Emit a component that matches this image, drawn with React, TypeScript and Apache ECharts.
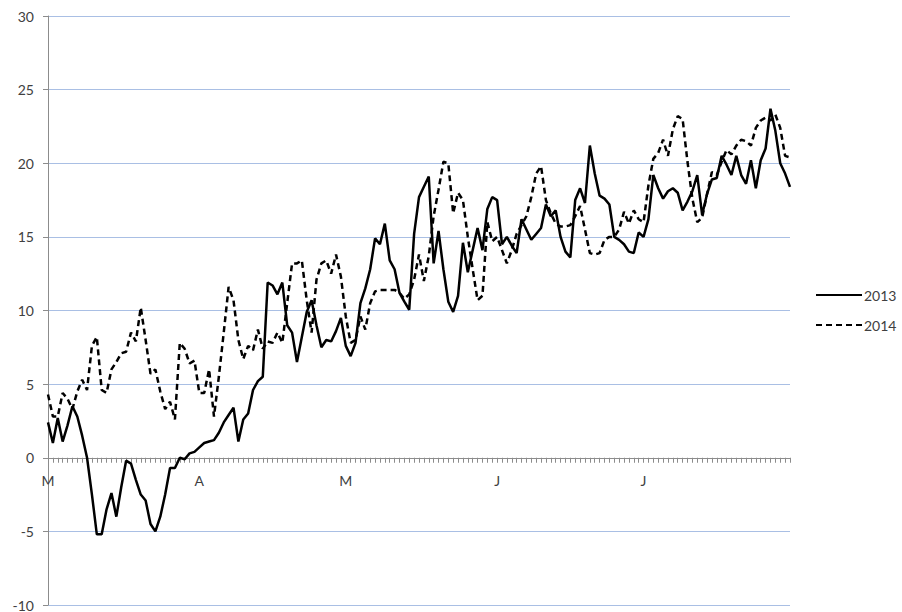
import React, { useEffect, useRef } from "react";
import * as echarts from "echarts";

// Month initials shown on the date axis, with the number of days in each month (March–July)
const monthLabels = ["M", "A", "M", "J", "J"];
const monthDays = [31, 30, 31, 30, 31];

// Daily mean temperature (°C), 1 March – 31 July
const temps2013 = [
  2.4, 1.0, 2.7, 1.1, 2.2, 3.5, 2.8, 1.5, 0.0, -2.5,
  -5.2, -5.2, -3.5, -2.4, -4.0, -2.0, -0.2, -0.4, -1.5, -2.5,
  -2.9, -4.5, -5.0, -4.0, -2.5, -0.7, -0.7, 0.0, -0.1, 0.3,
  0.4, 0.7, 1.0, 1.1, 1.2, 1.7, 2.4, 2.9, 3.4, 1.1,
  2.6, 3.0, 4.6, 5.2, 5.5, 11.9, 11.7, 11.1, 11.9, 9.0,
  8.5, 6.5, 8.2, 9.9, 10.7, 9.0, 7.5, 8.0, 7.9, 8.6,
  9.5, 7.6, 6.9, 7.8, 10.5, 11.5, 12.8, 14.9, 14.5, 15.9,
  13.4, 12.8, 11.2, 10.6, 10.05, 15.2, 17.7, 18.4, 19.1, 13.2,
  15.4, 12.8, 10.6, 9.9, 11.0, 14.6, 12.6, 14.1, 15.6, 14.1,
  16.9, 17.7, 17.5, 14.5, 15.0, 14.4, 13.9, 16.2, 15.5, 14.8,
  15.2, 15.6, 17.2, 16.4, 16.8, 15.0, 14.0, 13.6, 17.5, 18.3,
  17.3, 21.2, 19.3, 17.8, 17.6, 17.2, 15.0, 14.8, 14.5, 14.0,
  13.9, 15.3, 15.0, 16.2, 19.2, 18.3, 17.6, 18.1, 18.3, 18.0,
  16.8, 17.4, 18.1, 19.2, 16.5, 17.9, 18.9, 19.0, 20.5, 19.9,
  19.2, 20.5, 19.2, 18.6, 20.2, 18.3, 20.2, 21.0, 23.7, 22.2,
  20.0, 19.3, 18.4,
];

const temps2014 = [
  4.3, 2.8, 2.8, 4.4, 4.0, 3.3, 4.5, 5.3, 4.6, 7.6,
  8.2, 4.6, 4.4, 6.0, 6.5, 7.1, 7.2, 8.5, 7.9, 10.2,
  8.0, 5.7, 6.0, 4.5, 3.3, 3.8, 2.6, 7.8, 7.4, 6.4,
  6.6, 4.4, 4.4, 6.0, 2.8, 5.5, 8.5, 11.6, 10.7, 8.0,
  6.7, 7.6, 7.3, 8.7, 7.4, 7.9, 7.8, 8.5, 7.8, 10.5,
  13.2, 13.2, 13.4, 10.7, 8.5, 12.1, 13.2, 13.4, 12.5, 13.8,
  12.3, 9.6, 7.8, 8.0, 9.6, 8.7, 10.5, 11.3, 11.4, 11.4,
  11.4, 11.4, 11.2, 10.8, 11.1, 12.1, 13.8, 12.0, 13.7, 16.4,
  18.2, 20.1, 20.0, 16.6, 18.0, 17.5, 15.0, 12.8, 10.7, 11.0,
  16.0, 14.7, 15.0, 14.1, 13.2, 14.1, 15.2, 15.8, 16.4, 17.7,
  19.3, 19.8, 17.5, 16.6, 15.9, 15.7, 15.7, 15.8, 16.4, 17.1,
  15.5, 13.9, 13.8, 13.9, 14.8, 15.0, 15.0, 15.5, 16.7, 15.9,
  16.8, 16.2, 16.0, 18.5, 20.3, 20.7, 21.6, 20.5, 22.3, 23.2,
  23.0, 20.1, 17.6, 16.0, 16.3, 17.9, 19.4, 19.2, 20.1, 20.9,
  20.6, 21.2, 21.6, 21.5, 21.2, 22.4, 22.9, 23.1, 22.9, 23.3,
  22.4, 20.5, 20.4,
];

// Y axis ticks
const yMin = -10;
const yMax = 30;
const yStep = 5;

// One category per day; remember which ones start a month
const categories: string[] = [];
const monthStartLabel: Record<number, string> = {};
monthDays.forEach((n, m) => {
  monthStartLabel[categories.length] = monthLabels[m];
  for (let d = 1; d <= n; d++) categories.push(`${m + 3}/${d}`);
});

const FONT = "Lato, 'Open Sans', 'Liberation Sans', sans-serif";
const TEXT = "#404040";
const AXIS = "#8c8c8c";
const GRID = "#a9bfe4";

const W = 902;
const H = 612;
const GRID_TOP = 16;
const GRID_BOTTOM = 7;
const PLOT_H = H - GRID_TOP - GRID_BOTTOM;
// distance from the bottom of the plot up to the zero line, so the date axis sits on 0
const zeroOffset = (PLOT_H * (0 - yMin)) / (yMax - yMin);

export default function App() {
  const ref = useRef<HTMLDivElement>(null);

  useEffect(() => {
    if (!ref.current) return;
    const chart = echarts.init(ref.current, undefined, { renderer: "svg" });
    chart.setOption({
      animation: false,
      backgroundColor: "#ffffff",
      textStyle: { fontFamily: FONT },
      grid: { left: 48, right: 112, top: GRID_TOP, bottom: GRID_BOTTOM, containLabel: false },
      legend: {
        orient: "vertical",
        left: 815,
        top: 288,
        padding: 0,
        itemWidth: 46,
        itemHeight: 14,
        itemGap: 16,
        itemStyle: { opacity: 0 },
        textStyle: { fontFamily: FONT, fontSize: 14, color: TEXT, padding: [0, 0, 0, -3] },
        data: ["2013", "2014"],
      },
      xAxis: {
        type: "category",
        data: categories,
        boundaryGap: false,
        position: "bottom",
        offset: -zeroOffset,
        axisLine: { onZero: false, lineStyle: { color: AXIS, width: 1 } },
        axisTick: {
          show: true,
          interval: 0,
          length: 5,
          inside: false,
          lineStyle: { color: AXIS },
        },
        axisLabel: {
          interval: (i: number) => monthStartLabel[i] !== undefined,
          formatter: (_v: string, i: number) => monthStartLabel[i] ?? "",
          margin: 16,
          fontFamily: FONT,
          fontSize: 14,
          color: TEXT,
        },
        splitLine: { show: false },
      },
      yAxis: {
        type: "value",
        min: yMin,
        max: yMax,
        interval: yStep,
        axisLine: { show: true, onZero: false, lineStyle: { color: AXIS, width: 1 } },
        axisTick: { show: true, length: 5, lineStyle: { color: AXIS } },
        axisLabel: { margin: 14, fontFamily: FONT, fontSize: 14, color: TEXT },
        splitLine: { show: true, lineStyle: { color: GRID, width: 1 } },
      },
      series: [
        {
          name: "2013",
          type: "line",
          data: temps2013,
          symbol: "none",
          lineStyle: { color: "#000000", width: 2.5 },
          itemStyle: { color: "#000000" },
          z: 3,
        },
        {
          name: "2014",
          type: "line",
          data: temps2014,
          symbol: "none",
          lineStyle: { color: "#000000", width: 2.5, type: [6, 4] },
          itemStyle: { color: "#000000" },
          z: 2,
        },
      ],
    });
    return () => chart.dispose();
  }, []);

  return (
    <div
      ref={ref}
      style={{ position: "fixed", left: 0, top: 0, width: W, height: H }}
    />
  );
}
